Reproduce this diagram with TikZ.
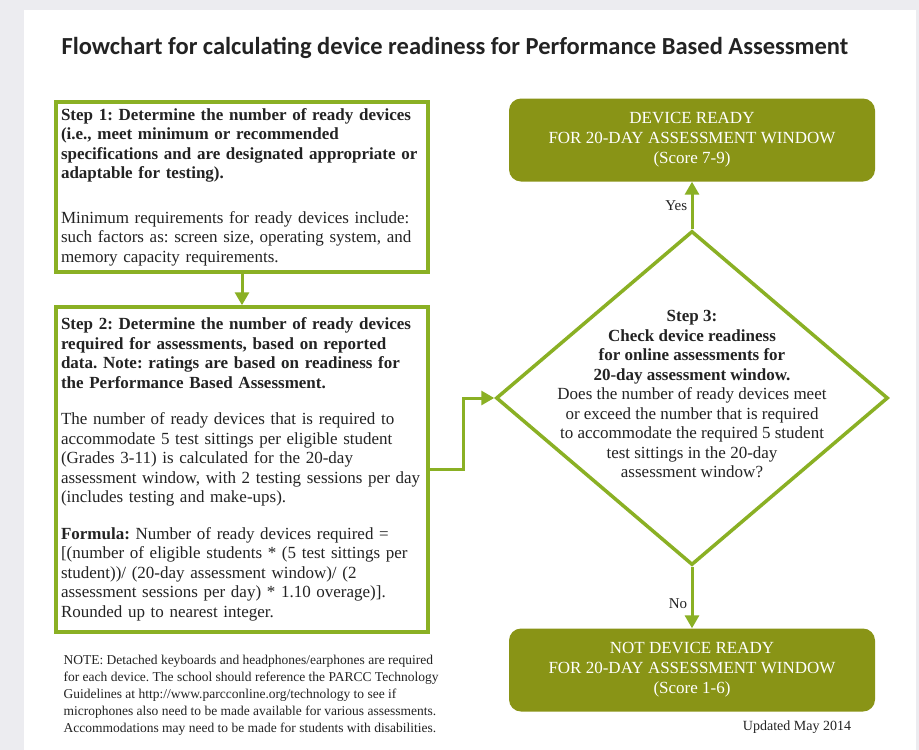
\documentclass[tikz,border=0pt]{standalone}
\usepackage{fontspec}
\setmainfont{Liberation Serif}
\newfontfamily\titlefont{Carlito}
\usetikzlibrary{shapes.geometric,arrows.meta}
\definecolor{boxgreen}{RGB}{138,176,36}
\definecolor{olivefill}{RGB}{137,148,22}
\definecolor{pagegray}{RGB}{236,236,240}
\definecolor{inktext}{RGB}{35,35,35}
\tikzset{
  stepbox/.style={draw=boxgreen,line width=3.5pt,fill=white,text width=362pt,align=left,inner xsep=5pt,inner ysep=0pt,text=inktext,font=\fontsize{17}{19.5}\selectfont},
  resultbox/.style={fill=olivefill,rounded corners=12pt,minimum width=366pt,minimum height=83pt,align=center,text=white,font=\fontsize{17}{20}\selectfont},
  decision/.style={diamond,draw=boxgreen,line width=3.5pt,minimum width=392pt,minimum height=334pt,inner sep=0pt},
  flowarrow/.style={draw=boxgreen,line width=3pt,-{Triangle[length=13pt,width=14pt]}},
  edgelabel/.style={text=inktext,font=\fontsize{15}{17}\selectfont}
}
\begin{document}
\frenchspacing
\begin{tikzpicture}[x=1pt,y=-1pt]
\fill[pagegray] (0,0) rectangle (919,750);
\fill[white] (24,10) rectangle (916,750);
\useasboundingbox (0,0) rectangle (919,750);
\node[text=inktext,font=\titlefont\bfseries\fontsize{24.5}{28}\selectfont] (title) at (455,48) {Flowchart for calculating device readiness for Performance Based Assessment};
\node[stepbox,minimum height=170pt] (step1) at (242,187) {\bfseries Step 1: Determine the number of ready devices\\
(i.e., meet minimum or recommended\\
specifications and are designated appropriate or\\
adaptable for testing).\\[25pt]
\mdseries Minimum requirements for ready devices include:\\
such factors as: screen size, operating system, and\\
memory capacity requirements.};
\node[stepbox,minimum height=325pt] (step2) at (242,469.5) {\bfseries Step 2: Determine the number of ready devices\\
required for assessments, based on reported\\
data. Note: ratings are based on readiness for\\
the Performance Based Assessment.\\[17pt]
\mdseries The number of ready devices that is required to\\
accommodate 5 test sittings per eligible student\\
(Grades 3-11) is calculated for the 20-day\\
assessment window, with 2 testing sessions per day\\
(includes testing and make-ups).\\[17pt]
\textbf{Formula:} Number of ready devices required =\\
{[}(number of eligible students * (5 test sittings per\\
student))/ (20-day assessment window)/ (2\\
assessment sessions per day) * 1.10 overage)].\\
Rounded up to nearest integer.};
\node[decision] (step3) at (692,398) {};
\node[align=center,text=inktext,font=\fontsize{17}{19.5}\selectfont] (step3text) at (692,394) {\textbf{Step 3:}\\
\textbf{Check device readiness}\\
\textbf{for online assessments for}\\
\textbf{20-day assessment window.}\\
Does the number of ready devices meet\\
or exceed the number that is required\\
to accommodate the required 5 student\\
test sittings in the 20-day\\
assessment window?};
\node[resultbox] (ready) at (692,140) {DEVICE READY\\FOR 20-DAY ASSESSMENT WINDOW\\(Score 7-9)};
\node[resultbox] (notready) at (692,670) {NOT DEVICE READY\\FOR 20-DAY ASSESSMENT WINDOW\\(Score 1-6)};
\node[anchor=west,align=left,text=inktext,font=\fontsize{13.5}{17}\selectfont] (note) at (60,695) {NOTE: Detached keyboards and headphones/earphones are required\\
for each device. The school should reference the PARCC Technology\\
Guidelines at http://www.parcconline.org/technology to see if\\
microphones also need to be made available for various assessments.\\
Accommodations may need to be made for students with disabilities.};
\node[text=inktext,font=\fontsize{14}{16}\selectfont] (updated) at (797,727) {Updated May 2014};
\draw[flowarrow] (step1) -- (step2);
\draw[flowarrow] (step2.east) -- ++(34,0) |- (step3.west);
\draw[flowarrow] (step3.north) -- node[edgelabel,left] (yes) {Yes} (ready.south);
\draw[flowarrow] (step3.south) -- node[edgelabel,left,pos=0.6] (no) {No} (notready.north);
\end{tikzpicture}
\end{document}
